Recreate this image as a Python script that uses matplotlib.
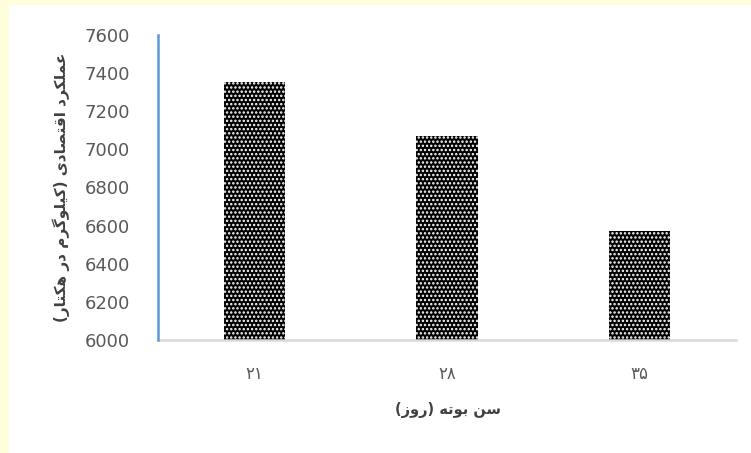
import matplotlib
matplotlib.use("Agg")
import matplotlib.pyplot as plt
from matplotlib.patches import Rectangle

# plant age (days) and economic yield (kg/ha)
ages = ["۲۱", "۲۸", "۳۵"]
yields = [7355, 7070, 6570]
y_ticks = [6000, 6200, 6400, 6600, 6800, 7000, 7200, 7400, 7600]
x_title = "سن بوته (روز)"
y_title = "عملکرد اقتصادی (کیلوگرم در هکتار)"

# contextual forms: isolated, final, initial, medial (2 entries = joins only to the right)
FORMS = {
    "ع": "\uFEC9\uFECA\uFECB\uFECC", "م": "\uFEE1\uFEE2\uFEE3\uFEE4",
    "ل": "\uFEDD\uFEDE\uFEDF\uFEE0", "ک": "\uFB8E\uFB8F\uFB90\uFB91",
    "ق": "\uFED5\uFED6\uFED7\uFED8", "ت": "\uFE95\uFE96\uFE97\uFE98",
    "ص": "\uFEB9\uFEBA\uFEBB\uFEBC", "ی": "\uFBFC\uFBFD\uFBFE\uFBFF",
    "گ": "\uFB92\uFB93\uFB94\uFB95", "ه": "\uFEE9\uFEEA\uFEEB\uFEEC",
    "س": "\uFEB1\uFEB2\uFEB3\uFEB4", "ن": "\uFEE5\uFEE6\uFEE7\uFEE8",
    "ب": "\uFE8F\uFE90\uFE91\uFE92",
    "ر": "\uFEAD\uFEAE", "د": "\uFEA9\uFEAA", "ا": "\uFE8D\uFE8E",
    "و": "\uFEED\uFEEE", "ز": "\uFEAF\uFEB0",
}


def rtl(text):
    # join letters and put them in visual (left-to-right) order
    out = []
    for i, c in enumerate(text):
        if c not in FORMS:
            out.append(c)
            continue
        prev = text[i - 1] if i > 0 else None
        nxt = text[i + 1] if i + 1 < len(text) else None
        f = FORMS[c]
        jp = prev in FORMS and len(FORMS[prev]) == 4
        jn = nxt in FORMS and len(f) == 4
        if jp and jn:
            out.append(f[3])
        elif jp:
            out.append(f[1])
        elif jn:
            out.append(f[2])
        else:
            out.append(f[0])
    vis = "".join(out)[::-1]
    return vis.translate(str.maketrans("()", ")("))


plt.rcParams["font.family"] = ["DejaVu Sans"]
plt.rcParams["hatch.linewidth"] = 1.15

fig = plt.figure(figsize=(7.51, 4.53), dpi=100, facecolor="#FFFDDC")
fig.patches.append(Rectangle((9 / 751, 0), 1, 1 - 5 / 453, transform=fig.transFigure,
                             facecolor="white", edgecolor="none", zorder=-10))

ax = fig.add_axes([158 / 751, 1 - 340 / 453, 578 / 751, 305 / 453])
ax.set_facecolor("none")

x = range(len(ages))
ax.bar(x, [v - 6000 for v in yields], bottom=6000, width=0.32,
       color="black", edgecolor="white", linewidth=0, hatch="....", zorder=2)

ax.set_xlim(-0.5, 2.5)
ax.set_ylim(6000, 7600)
ax.set_yticks(y_ticks)
ax.set_xticks(list(x))
ax.set_xticklabels(ages)
ax.tick_params(axis="y", length=0, pad=20, labelsize=13, labelcolor="#595959")
ax.tick_params(axis="x", length=0, pad=18, labelsize=12, labelcolor="#595959")

for s in ["top", "right"]:
    ax.spines[s].set_visible(False)
ax.spines["bottom"].set_color("#D9D9D9")
ax.spines["bottom"].set_linewidth(1.8)
ax.spines["left"].set_color("#5B9BD5")
ax.spines["left"].set_linewidth(1.8)
ax.spines["left"].set_zorder(3)

fig.text(448 / 751, 1 - 410 / 453, rtl(x_title), ha="center", va="center",
         fontsize=10.5, fontweight="bold", color="#404040")
fig.text(61 / 751, 1 - 187 / 453, rtl(y_title), ha="center", va="center",
         rotation=90, fontsize=11, fontweight="bold", color="#404040")

fig.savefig("out.png", dpi=100, facecolor=fig.get_facecolor())
